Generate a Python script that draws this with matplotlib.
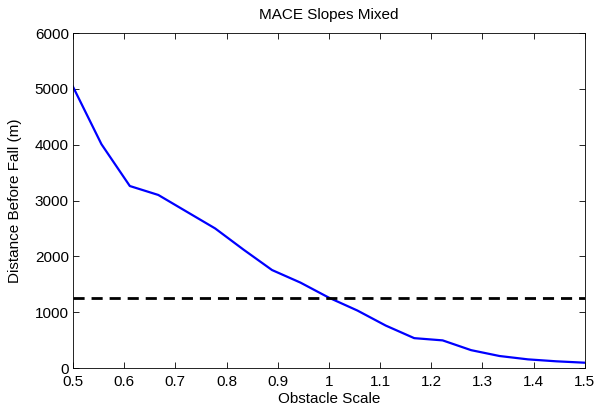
import numpy as np
import matplotlib
matplotlib.use("Agg")
import matplotlib.pyplot as plt

# obstacle scale samples and distance before fall
scale = [0.5, 0.5556, 0.6111, 0.6667, 0.7222, 0.7778, 0.8333, 0.8889, 0.9444, 1.0,
         1.0556, 1.1111, 1.1667, 1.2222, 1.2778, 1.3333, 1.3889, 1.4444, 1.5]
distance = [5040, 4010, 3260, 3100, 2800, 2500, 2120, 1755, 1530, 1260,
            1030, 760, 535, 495, 320, 215, 155, 120, 95]
threshold = 1250

plt.rcParams['font.family'] = ['Liberation Sans', 'DejaVu Sans']
plt.rcParams['font.size'] = 11

fig = plt.figure(figsize=(5.98, 4.08), dpi=100)
ax = fig.add_axes([0.122, 0.098, 0.856, 0.821])

ax.plot(scale, distance, color='#0000ff', linewidth=1.6)
ax.axhline(threshold, color='k', linestyle=(0, (4, 2.5)), linewidth=2)

ax.set_xlim(0.5, 1.5)
ax.set_ylim(0, 6000)
ax.set_xticks(np.arange(0.5, 1.51, 0.1))
ax.set_xticklabels(['0.5', '0.6', '0.7', '0.8', '0.9', '1', '1.1', '1.2', '1.3', '1.4', '1.5'])
ax.set_yticks(np.arange(0, 6001, 1000))
ax.tick_params(direction='in', length=4, width=0.6, top=True, right=True, pad=3)
ax.tick_params(axis='x', pad=5)
for s in ax.spines.values():
    s.set_linewidth(0.6)

ax.set_xlabel('Obstacle Scale', labelpad=2)
ax.set_ylabel('Distance Before Fall (m)', labelpad=9)
ax.set_title('MACE Slopes Mixed', fontsize=11, pad=10)

fig.savefig('out.png', dpi=100)
